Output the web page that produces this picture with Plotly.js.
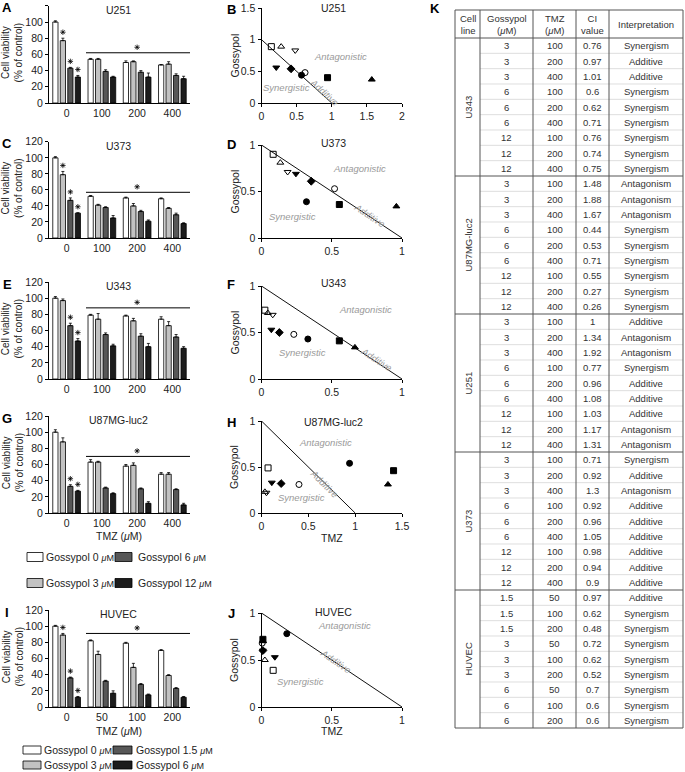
<!DOCTYPE html>
<html><head><meta charset="utf-8">
<script src="https://cdn.plot.ly/plotly-3.0.1.min.js"></script>
<style>body{margin:0;padding:0;background:#fff}#chart{width:685px;height:772px}</style>
</head><body><div id="chart"></div>
<script>
// ---------------- DATA ----------------
const tmzCategories = ['0','100','200','400'];
const huvecTmzCategories = ['0','50','100','200'];
const gliomaLegendLabels = ['Gossypol 0 μM','Gossypol 3 μM','Gossypol 6 μM','Gossypol 12 μM'];
const huvecLegendLabels = ['Gossypol 0 μM','Gossypol 3 μM','Gossypol 1.5 μM','Gossypol 6 μM'];

// viability [series][TMZ group]
const u251Viability = [[100,54,50,47],[77,54,51,48],[43,39,38,34],[32,32,32,30]];
const u251Error     = [[1.5,1,2,0.5],[3,1,1,3],[1,2,2,2],[2,1,5,3]];
const u373Viability = [[100,52,50,49],[79,41,40,37],[47,38,33,29],[31,25,21,18]];
const u373Error     = [[1.5,1,1,1],[4,1,3,1],[3,1,1.5,2],[0.5,3,1.5,1]];
const u343Viability = [[100,79,78,74],[97,74,72,66],[66,55,53,52],[47,41,40,38]];
const u343Error     = [[2,1,1,3],[2,7,3,5],[3,2,3,3],[3,2,4,2]];
const u87Viability  = [[100,63,58,48],[88,63,59,48],[33,31,30,29],[27,24,12,10]];
const u87Error      = [[3,3,2,2],[5,1,3,2],[2,1,1,1],[1,1,2,2]];
const huvecViability= [[100,82,79,70],[89,65,49,39],[36,32,28,23],[12,17,15,12]];
const huvecError    = [[1,1,1,1],[2,4,5,1],[1,1,1,1],[1,3,1,1]];

// series with a significance star at TMZ 0
const u251StarSeries = [1,2,3];
const u373StarSeries = [1,2,3];
const u343StarSeries = [2,3];
const u87StarSeries  = [2,3];
const huvecStarSeries= [1,2,3];
// level of the significance bracket over the TMZ-treated groups
const sigLineLevels = [62,57,88,70,91];

// isobolograms (normalised TMZ, normalised gossypol)
const additiveTMZ = [0,1];
const additiveGossypol = [1,0];
const u251IsoTMZ = [0.14,0.28,0.48,0.21,0.42,0.62,0.57,0.94,1.57];
const u251IsoGos = [0.89,0.89,0.83,0.56,0.54,0.48,0.44,0.40,0.37];
const u373IsoTMZ = [0.083,0.134,0.186,0.245,0.354,0.52,0.32,0.554,0.96];
const u373IsoGos = [0.90,0.81,0.71,0.69,0.61,0.53,0.39,0.36,0.34];
const u343IsoTMZ = [0.024,0.045,0.08,0.07,0.127,0.23,0.33,0.554,0.665];
const u343IsoGos = [0.74,0.71,0.69,0.53,0.50,0.48,0.43,0.41,0.34];
const u87IsoTMZ  = [0.07,0.036,0.053,0.11,0.21,0.40,0.94,1.41,1.35];
const u87IsoGos  = [0.49,0.23,0.22,0.33,0.32,0.31,0.54,0.46,0.31];
const huvecIsoTMZ= [0.083,0.024,0.01,0.095,0.01,0.005,0.18,0.01,0.012];
const huvecIsoGos= [0.39,0.50,0.60,0.53,0.60,0.68,0.78,0.72,0.70];

// table K
const tableCellLines = ['U343','U87MG-luc2','U251','U373','HUVEC'];
const tableGossypol = ['3','3','3','6','6','6','12','12','12',
 '3','3','3','6','6','6','12','12','12',
 '3','3','3','6','6','6','12','12','12',
 '3','3','3','6','6','6','12','12','12',
 '1.5','1.5','1.5','3','3','3','6','6','6'];
const tableTMZ = ['100','200','400','100','200','400','100','200','400',
 '100','200','400','100','200','400','100','200','400',
 '100','200','400','100','200','400','100','200','400',
 '100','200','400','100','200','400','100','200','400',
 '50','100','200','50','100','200','50','100','200'];
const tableCI = ['0.76','0.97','1.01','0.6','0.62','0.71','0.76','0.74','0.75',
 '1.48','1.88','1.67','0.44','0.53','0.71','0.55','0.27','0.26',
 '1','1.34','1.92','0.77','0.96','1.08','1.03','1.17','1.31',
 '0.71','0.92','1.3','0.92','0.96','1.05','0.98','0.94','0.9',
 '0.97','0.62','0.48','0.72','0.62','0.52','0.7','0.6','0.6'];
const tableInterpretation = ['Synergism','Additive','Additive','Synergism','Synergism','Synergism','Synergism','Synergism','Synergism',
 'Antagonism','Antagonism','Antagonism','Synergism','Synergism','Synergism','Synergism','Synergism','Synergism',
 'Additive','Antagonism','Antagonism','Synergism','Additive','Additive','Additive','Antagonism','Antagonism',
 'Synergism','Additive','Antagonism','Additive','Additive','Additive','Additive','Additive','Additive',
 'Additive','Synergism','Synergism','Synergism','Synergism','Synergism','Synergism','Synergism','Synergism'];
const tableHeaders = ['Cell<br>line','Gossypol<br>(<i>μ</i>M)','TMZ<br>(<i>μ</i>M)','CI<br>value','Interpretation'];

// ---------------- LAYOUT HELPERS ----------------
const W = 685, H = 772;
const FONT = '"Liberation Sans", Arial, Helvetica, sans-serif';
const X = p => p / W, Y = p => 1 - p / H;
const data = [], annotations = [], shapes = [];
const layout = {
  width: W, height: H, margin: {l:0,r:0,t:0,b:0},
  paper_bgcolor: '#fff', plot_bgcolor: 'rgba(0,0,0,0)', showlegend: false,
  barmode: 'group', bargap: 0.15, bargroupgap: 0.3,
  font: {family: FONT, size: 10, color: '#222'}
};
const barColors = ['#ffffff','#c2c2c2','#575757','#1c1c1c'];
function txt(x, y, text, opt) {
  annotations.push(Object.assign({xref:'paper', yref:'paper', x:X(x), y:Y(y), text:text,
    showarrow:false, font:{family:FONT, size:10, color:'#222'}, xanchor:'center', yanchor:'middle'}, opt||{}));
}

// ---------------- BAR PANELS ----------------
const barPanels = [
  {letter:'A', title:'U251', cats:tmzCategories, vals:u251Viability, errs:u251Error, stars:u251StarSeries, top:5.8, bottom:103},
  {letter:'C', title:'U373', cats:tmzCategories, vals:u373Viability, errs:u373Error, stars:u373StarSeries, top:141.8, bottom:238},
  {letter:'E', title:'U343', cats:tmzCategories, vals:u343Viability, errs:u343Error, stars:u343StarSeries, top:282, bottom:379},
  {letter:'G', title:'U87MG-luc2', cats:tmzCategories, vals:u87Viability, errs:u87Error, stars:u87StarSeries, top:416, bottom:513, xtitle:536},
  {letter:'I', title:'HUVEC', cats:huvecTmzCategories, vals:huvecViability, errs:huvecError, stars:huvecStarSeries, top:610, bottom:707, xtitle:731}
];
const barLeft = 49, barRight = 190;
const starPx = 6;
barPanels.forEach((p, k) => {
  const n = k + 1, xs = n === 1 ? 'x' : 'x' + n, ys = n === 1 ? 'y' : 'y' + n;
  const pos = p.cats.map((c, i) => i);            // category index on a linear axis
  const unitsPerPx = 120 / (p.bottom - p.top);
  layout['xaxis' + (n === 1 ? '' : n)] = {domain:[X(barLeft), X(barRight)], anchor:ys, type:'linear',
    range:[-0.5,3.5], tickvals:pos, ticktext:p.cats, showline:true, linecolor:'#000', linewidth:1, ticks:'',
    showgrid:false, zeroline:false, tickfont:{size:10.5, family:FONT, color:'#222'}, fixedrange:true};
  layout['yaxis' + (n === 1 ? '' : n)] = {domain:[Y(p.bottom), Y(p.top)], anchor:xs, range:[0,120], dtick:20,
    ticks:'outside', ticklen:3, tickcolor:'#000', showline:true, linecolor:'#000', linewidth:1, showgrid:false,
    zeroline:false, tickfont:{size:10.5, family:FONT, color:'#222'}, fixedrange:true};
  p.vals.forEach((v, j) => {
    data.push({type:'bar', x:pos, y:v, xaxis:xs, yaxis:ys, name:(p.cats === huvecTmzCategories ? huvecLegendLabels : gliomaLegendLabels)[j],
      marker:{color:barColors[j], line:{color:'#000', width:0.8}},
      error_y:{type:'data', symmetric:false, array:p.errs[j], arrayminus:p.errs[j].map(() => 0), color:'#000', thickness:0.8, width:1.5},
      hoverinfo:'x+y'});
  });
  // significance stars at TMZ 0 and over the bracket
  const slot = (1 - layout.bargap) / 4;
  const sx = p.stars.map(j => -(1 - layout.bargap)/2 + slot*(j + 0.5));
  const sy = p.stars.map(j => p.vals[j][0] + p.errs[j][0] + starPx * unitsPerPx);
  sx.push(2.0); sy.push(sigLineLevels[k] + 5.5 * unitsPerPx);
  data.push({type:'scatter', mode:'markers', x:sx, y:sy, xaxis:xs, yaxis:ys, hoverinfo:'skip', cliponaxis:false,
    marker:{symbol:'asterisk-open', size:4.5, color:'#000', line:{color:'#000', width:0.8}}});
  shapes.push({type:'line', xref:xs, yref:ys, x0:0.55, x1:3.5, y0:sigLineLevels[k], y1:sigLineLevels[k], line:{color:'#000', width:1}});
  txt(118, p.top + 4, p.title, {font:{family:FONT, size:10.5, color:'#222'}});
  txt(7, p.top + 2, '<b>' + p.letter + '</b>', {font:{family:FONT, size:13, color:'#000'}});
  txt(12, (p.top + p.bottom)/2 - 1, 'Cell viability<br>(% of control)', {textangle:-90, font:{family:FONT, size:10, color:'#222'}});
  if (p.xtitle) txt(119, p.xtitle, 'TMZ (<i>μ</i>M)', {font:{family:FONT, size:10.5, color:'#222'}});
});

// legends
function legend(labels, rowY, boxX, textX, boxH) {
  const order = [[0,2],[1,3]];
  order.forEach((row, r) => row.forEach((si, c) => {
    shapes.push({type:'rect', xref:'paper', yref:'paper', x0:X(boxX[c][0]), x1:X(boxX[c][1]),
      y0:Y(rowY[r] + boxH/2), y1:Y(rowY[r] - boxH/2), fillcolor:barColors[si], line:{color:'#000', width:0.8}});
    txt(textX[c], rowY[r], labels[si].replace('μM', '<span style="font-size:9px"><i>μ</i>M</span>'),
      {xanchor:'left', font:{family:FONT, size:10.5, color:'#222'}});
  }));
}
legend(gliomaLegendLabels, [557, 583], [[27,43],[115,132]], [44, 136], 9);
legend(huvecLegendLabels, [750, 765], [[23,41],[113,132]], [42, 134], 8);

// ---------------- ISOBOLOGRAMS ----------------
const isoSymbols = ['square-open','triangle-up-open','triangle-down-open','triangle-down','diamond','circle-open','circle','square','triangle-up'];
const isoPanels = [
  {letter:'B', title:'U251', tmz:u251IsoTMZ, gos:u251IsoGos, xmax:2, ymax:1.5, top:8, bottom:103,
   antag:[1.12,0.73], syn:[0.35,0.25], add:[0.9,0.17,42]},
  {letter:'D', title:'U373', tmz:u373IsoTMZ, gos:u373IsoGos, xmax:1, ymax:1, top:145, bottom:238,
   antag:[0.70,0.75], syn:[0.22,0.23], add:[0.77,0.24,33]},
  {letter:'F', title:'U343', tmz:u343IsoTMZ, gos:u343IsoGos, xmax:1, ymax:1, top:286, bottom:379,
   antag:[0.74,0.75], syn:[0.29,0.28], add:[0.82,0.21,33]},
  {letter:'H', title:'U87MG-luc2', tmz:u87IsoTMZ, gos:u87IsoGos, xmax:1.5, ymax:1, top:421, bottom:513,
   antag:[0.68,0.77], syn:[0.43,0.17], add:[0.67,0.32,45], xtitle:538},
  {letter:'J', title:'HUVEC', tmz:huvecIsoTMZ, gos:huvecIsoGos, xmax:1, ymax:1, top:613, bottom:707,
   antag:[0.59,0.87], syn:[0.28,0.27], add:[0.53,0.48,34], xtitle:731}
];
const isoLeft = 261.5, isoRight = 402;
const titleY = [8, 143, 283, 422, 612];
isoPanels.forEach((p, k) => {
  const n = k + 6, xs = 'x' + n, ys = 'y' + n;
  layout['xaxis' + n] = {domain:[X(isoLeft), X(isoRight)], anchor:ys, range:[0, p.xmax], dtick:0.5,
    ticks:'outside', ticklen:3, tickcolor:'#000', showline:true, linecolor:'#000', linewidth:1, showgrid:false,
    zeroline:false, tickfont:{size:10.5, family:FONT, color:'#222'}, fixedrange:true};
  layout['yaxis' + n] = {domain:[Y(p.bottom), Y(p.top)], anchor:xs, range:[0, p.ymax], dtick:0.5,
    ticks:'outside', ticklen:3, tickcolor:'#000', showline:true, linecolor:'#000', linewidth:1, showgrid:false,
    zeroline:false, tickfont:{size:10.5, family:FONT, color:'#222'}, fixedrange:true};
  data.push({type:'scatter', mode:'lines', x:additiveTMZ, y:additiveGossypol, xaxis:xs, yaxis:ys,
    line:{color:'#111', width:1}, hoverinfo:'skip', cliponaxis:false});
  data.push({type:'scatter', mode:'markers', x:p.tmz, y:p.gos, xaxis:xs, yaxis:ys, cliponaxis:false,
    marker:{symbol:isoSymbols, size:6, color:'#000', line:{color:'#000', width:1}}});
  const lab = {family:FONT, size:9.5, color:'#9a9a9a'};
  annotations.push({xref:xs, yref:ys, x:p.antag[0], y:p.antag[1], text:'<i>Antagonistic</i>', showarrow:false, font:lab});
  annotations.push({xref:xs, yref:ys, x:p.syn[0], y:p.syn[1], text:'<i>Synergistic</i>', showarrow:false, font:lab});
  annotations.push({xref:xs, yref:ys, x:p.add[0], y:p.add[1], text:'<i>Additive</i>', showarrow:false, textangle:p.add[2], font:lab});
  txt(333, titleY[k], p.title, {font:{family:FONT, size:10.5, color:'#222'}});
  txt(231, titleY[k] + 1, '<b>' + p.letter + '</b>', {font:{family:FONT, size:13, color:'#000'}});
  txt(234, (p.top + p.bottom)/2, 'Gossypol', {textangle:-90, font:{family:FONT, size:10.5, color:'#222'}});
  if (p.xtitle) txt(332, p.xtitle, 'TMZ', {font:{family:FONT, size:10.5, color:'#222'}});
});

// ---------------- TABLE K ----------------
const colEdges = [455, 480, 533, 576, 609, 683];
const tblTop = 10, headBottom = 38, tblBottom = 728;
const rowH = (tblBottom - headBottom) / tableCI.length;
const colMid = i => (colEdges[i] + colEdges[i+1]) / 2;
const tfont = {family:FONT, size:9.5, color:'#333'};
txt(435, 8, '<b>K</b>', {font:{family:FONT, size:13, color:'#000'}});
tableHeaders.forEach((h, i) => txt(colMid(i), (tblTop + headBottom)/2, h, {font:tfont}));
const cols = [tableGossypol, tableTMZ, tableCI, tableInterpretation];
tableCI.forEach((_, r) => {
  const cy = headBottom + rowH * (r + 0.5);
  cols.forEach((arr, c) => txt(colMid(c + 1), cy, arr[r], {font:tfont}));
  if (r > 0 && r % 9 !== 0) {
    shapes.push({type:'line', xref:'paper', yref:'paper', x0:X(colEdges[1]), x1:X(colEdges[5]),
      y0:Y(headBottom + rowH*r), y1:Y(headBottom + rowH*r), line:{color:'#d0d0d0', width:0.7}});
  }
});
tableCellLines.forEach((name, g) => {
  const cy = headBottom + rowH * (g*9 + 4.5);
  txt(colMid(0), cy, name, {textangle:-90, font:tfont});
  if (g > 0) shapes.push({type:'line', xref:'paper', yref:'paper', x0:X(colEdges[0]), x1:X(colEdges[5]),
    y0:Y(headBottom + rowH*g*9), y1:Y(headBottom + rowH*g*9), line:{color:'#555', width:1}});
});
shapes.push({type:'line', xref:'paper', yref:'paper', x0:X(colEdges[0]), x1:X(colEdges[5]),
  y0:Y(headBottom), y1:Y(headBottom), line:{color:'#555', width:1}});
colEdges.forEach(e => shapes.push({type:'line', xref:'paper', yref:'paper', x0:X(e), x1:X(e),
  y0:Y(tblTop), y1:Y(tblBottom), line:{color:'#555', width:1}}));
[tblTop, tblBottom].forEach(e => shapes.push({type:'line', xref:'paper', yref:'paper', x0:X(colEdges[0]), x1:X(colEdges[5]),
  y0:Y(e), y1:Y(e), line:{color:'#555', width:1}}));

layout.annotations = annotations;
layout.shapes = shapes;
Plotly.newPlot('chart', data, layout, {displayModeBar:false, staticPlot:true});
</script></body></html>
